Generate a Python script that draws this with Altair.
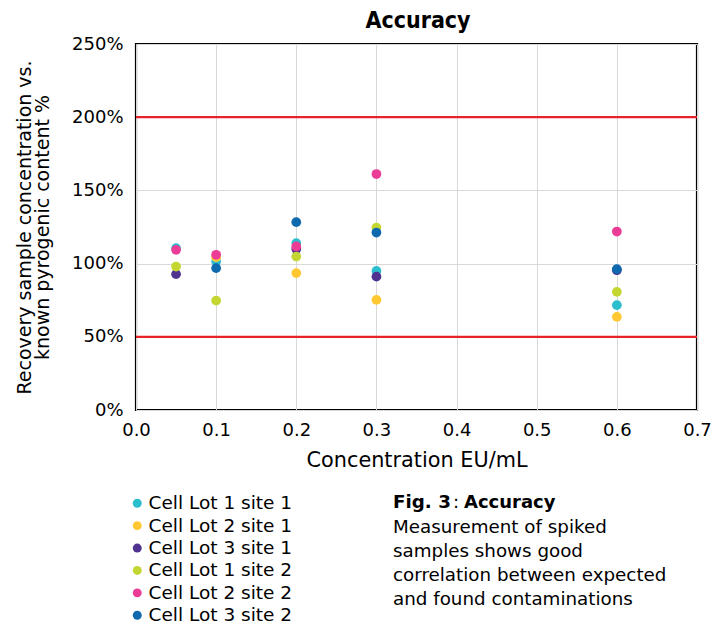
import altair as alt
import pandas as pd

series = ["Cell Lot 1 site 1", "Cell Lot 2 site 1", "Cell Lot 3 site 1",
          "Cell Lot 1 site 2", "Cell Lot 2 site 2", "Cell Lot 3 site 2"]
colors = ["#2DBECD", "#FFC832", "#503291", "#C4D631", "#EB3C96", "#0F69AF"]

# concentration (EU/mL) and recovery (%) for each series
conc_l1s1 = [0.05, 0.1, 0.2, 0.3, 0.6]
rec_l1s1 = [110.5, 101.4, 114.0, 95.0, 71.6]
conc_l2s1 = [0.1, 0.2, 0.3, 0.6]
rec_l2s1 = [104.4, 93.5, 75.2, 63.6]
conc_l3s1 = [0.05, 0.2, 0.3, 0.6]
rec_l3s1 = [92.8, 109.9, 91.1, 95.5]
conc_l1s2 = [0.05, 0.1, 0.2, 0.3, 0.6]
rec_l1s2 = [98.0, 74.7, 104.8, 124.6, 80.7]
conc_l2s2 = [0.05, 0.1, 0.2, 0.3, 0.6]
rec_l2s2 = [109.4, 106.0, 111.7, 161.2, 121.9]
conc_l3s2 = [0.1, 0.2, 0.3, 0.6]
rec_l3s2 = [96.9, 128.3, 121.2, 96.2]

limit_values = [50, 200]
x_ticks = [0.0, 0.1, 0.2, 0.3, 0.4, 0.5, 0.6, 0.7]
y_ticks = [0, 50, 100, 150, 200, 250]

caption_head = ["Fig. 3", ":", "Accuracy"]
caption_lines = ["Measurement of spiked", "samples shows good",
                 "correlation between expected", "and found contaminations"]

all_conc = [conc_l1s1, conc_l2s1, conc_l3s1, conc_l1s2, conc_l2s2, conc_l3s2]
all_rec = [rec_l1s1, rec_l2s1, rec_l3s1, rec_l1s2, rec_l2s2, rec_l3s2]
rows = []
for name, xs, ys in zip(series, all_conc, all_rec):
    for xv, yv in zip(xs, ys):
        rows.append({"series": name, "conc": xv, "recovery": yv})
df = pd.DataFrame(rows)
limits = pd.DataFrame({"recovery": limit_values})

W, H = 561, 366
FONT = "DejaVu Sans"

y_enc = alt.Y(
    "recovery:Q",
    scale=alt.Scale(domain=[0, 250], nice=False, zero=True),
    axis=alt.Axis(
        values=y_ticks,
        labelExpr="datum.value + '%'",
        labelPadding=13,
        labelFlush=False,
        title=["Recovery sample concentration vs.", "known pyrogenic content %"],
        titleX=-112,
        titleY=H / 2,
        titleBaseline="middle",
        titleLineHeight=18.5,
        titleFontSize=19,
    ),
)
x_enc = alt.X(
    "conc:Q",
    scale=alt.Scale(domain=[0, 0.7], nice=False, zero=False),
    axis=alt.Axis(
        values=x_ticks,
        format=".1f",
        labelPadding=11,
        labelFlush=False,
        title="Concentration EU/mL",
        titleY=50,
        titleBaseline="middle",
        titleFontSize=20.8,
    ),
)

rules = alt.Chart(limits).mark_rule(color="#E52329", strokeWidth=2.2).encode(y=y_enc)

points = alt.Chart(df).mark_circle(size=95, opacity=1).encode(
    x=x_enc,
    y=y_enc,
    color=alt.Color(
        "series:N",
        scale=alt.Scale(domain=series, range=colors),
        sort=series,
        legend=alt.Legend(
            orient="none",
            legendX=-8,
            legendY=450,
            direction="vertical",
            title=None,
            symbolType="circle",
            symbolSize=80,
            symbolStrokeWidth=0,
            symbolOpacity=1,
            labelFont=FONT,
            labelFontSize=18.5,
            labelColor="#000000",
            labelOffset=2,
            rowPadding=3.4,
            padding=0,
        ),
    ),
)

one = pd.DataFrame({"k": [0]})

title_mark = alt.Chart(one).mark_text(
    text="Accuracy", font="DejaVu Sans Condensed", fontSize=23, fontWeight="bold",
    baseline="middle", align="center", color="#000000"
).encode(x=alt.value(282), y=alt.value(-23))

cap1 = alt.Chart(one).mark_text(
    text=caption_head[0], font=FONT, fontSize=18.3, fontWeight="bold",
    baseline="middle", align="left", color="#000000"
).encode(x=alt.value(257), y=alt.value(459))
cap2 = alt.Chart(one).mark_text(
    text=caption_head[1], font=FONT, fontSize=18.3,
    baseline="middle", align="left", color="#000000"
).encode(x=alt.value(317), y=alt.value(459))
cap3 = alt.Chart(one).mark_text(
    text=caption_head[2], font=FONT, fontSize=18, fontWeight="bold",
    baseline="middle", align="left", color="#000000"
).encode(x=alt.value(328), y=alt.value(459))
cap4 = alt.Chart(one).mark_text(
    text=caption_lines, font=FONT, fontSize=18.3, lineHeight=24,
    baseline="middle", align="left", color="#000000"
).encode(x=alt.value(257), y=alt.value(483.7))

chart = alt.layer(rules, points, title_mark, cap1, cap2, cap3, cap4).properties(
    width=W,
    height=H,
    autosize=alt.AutoSizeParams(type="none"),
    padding={"left": 128, "top": 36, "right": 14, "bottom": 214},
).configure_view(
    stroke="#000000", strokeWidth=2.2
).configure_axis(
    grid=True,
    gridColor="#d9d9d9",
    gridWidth=1,
    domain=False,
    ticks=False,
    labelFont=FONT,
    labelFontSize=18,
    labelColor="#000000",
    titleFont=FONT,
    titleFontSize=18,
    titleFontWeight="normal",
    titleColor="#000000",
)

chart.save("out.html", embed_options={"renderer": "svg", "actions": False})
